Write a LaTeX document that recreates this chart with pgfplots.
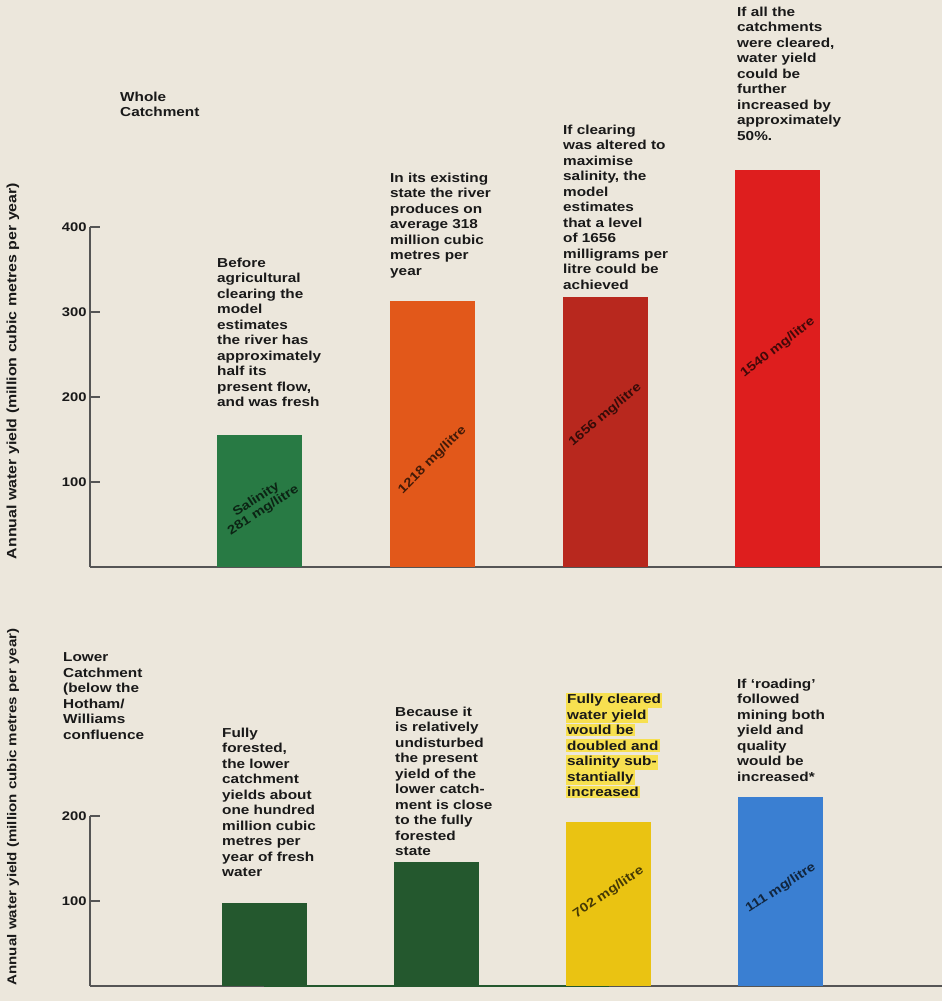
\documentclass[border=0pt]{standalone}
\usepackage{fontspec}
\setmainfont{Liberation Sans}[FakeStretch=1.18]
\usepackage{pgfplots}
\pgfplotsset{compat=1.18}
\definecolor{bg}{RGB}{236,231,220}
\definecolor{gtop}{RGB}{40,122,68}
\definecolor{orng}{RGB}{226,88,26}
\definecolor{dred}{RGB}{184,40,30}
\definecolor{rd}{RGB}{222,30,30}
\definecolor{gbot}{RGB}{36,88,46}
\definecolor{ylw}{RGB}{234,195,18}
\definecolor{blu}{RGB}{58,127,210}
\definecolor{hly}{RGB}{247,224,80}
\definecolor{axc}{RGB}{85,85,85}
\definecolor{txt}{RGB}{25,25,25}
\newcommand\ann{\fontsize{13}{15.5}\selectfont\bfseries\lineskiplimit=-20pt\relax}
\newcommand\hl[1]{{\setlength\fboxsep{1.5pt}\hspace*{-1.5pt}\colorbox{hly}{#1}}}
\pgfplotsset{
  common/.style={scale only axis, width=852pt, axis x line=bottom, axis y line=left,
    axis line style={-, axc, line width=1.3pt}, tick style={axc, line width=1.3pt},
    tick align=inside, major tick length=10pt, xtick=\empty, clip=false, ymin=0,
    yticklabel style={font=\fontsize{12.5}{14}\selectfont\bfseries, text=txt},
    /pgf/number format/assume math mode=true},
  b/.style={ybar, bar width=85pt, bar shift=0pt, draw=none, fill=#1}
}
\tikzset{bl/.style={font=\fontsize{12.5}{13}\selectfont\bfseries, text=black, opacity=0.7, align=center, inner sep=0pt},
  an/.style={anchor=north west, align=left, inner sep=0pt, font=\ann, text=txt}}
\begin{document}
\begin{tikzpicture}[x=1pt,y=1pt]
\fill[bg] (0,0) rectangle (942,1001);
\useasboundingbox (0,0) rectangle (942,1001);
% ---------- top axis ----------
\begin{axis}[common, at={(90pt,434pt)}, anchor=south west, height=340pt,
  ymax=400, ytick={100,200,300,400}, xmin=-0.984, xmax=3.95]
\addplot[b=gtop] coordinates {(0,155)};
\addplot[b=orng] coordinates {(1,313)};
\addplot[b=dred] coordinates {(2,318)};
\addplot[b=rd] coordinates {(3,467)};
\node[bl, rotate=33] at (axis cs:0,73) {Salinity\\281 mg/litre};
\node[bl, rotate=45] at (axis cs:1,126) {1218 mg/litre};
\node[bl, rotate=40] at (axis cs:2,179) {1656 mg/litre};
\node[bl, rotate=38] at (axis cs:3,258) {1540 mg/litre};
\end{axis}
% ---------- bottom axis ----------
\begin{axis}[common, at={(90pt,15pt)}, anchor=south west, height=170pt,
  ymax=200, ytick={100,200}, xmin=-1.01, xmax=3.935]
\addplot[gbot, line width=2.2pt, forget plot] coordinates {(0,0) (2,0)};
\addplot[b=gbot] coordinates {(0,98)};
\addplot[b=gbot] coordinates {(1,146)};
\addplot[b=ylw] coordinates {(2,193)};
\addplot[b=blu] coordinates {(3,222)};
\node[bl, rotate=34] at (axis cs:2,110) {702 mg/litre};
\node[bl, rotate=33] at (axis cs:3,115) {111 mg/litre};
\end{axis}
% ---------- axis titles ----------
\node[rotate=90, font=\fontsize{13.5}{14}\selectfont\bfseries, text=txt] at (13,630) {Annual water yield (million cubic metres per year)};
\node[rotate=90, font=\fontsize{12.8}{14}\selectfont\bfseries, text=txt] at (13,194) {Annual water yield (million cubic metres per year)};
% ---------- annotations ----------
\node[an] at (120,909.5) {Whole\\Catchment};
\node[an] at (217,743.5) {Before\\agricultural\\clearing the\\model\\estimates\\the river has\\approximately\\half its\\present flow,\\and was fresh};
\node[an] at (390,828.5) {In its existing\\state the river\\produces on\\average 318\\million cubic\\metres per\\year};
\node[an] at (563,876.5) {If clearing\\was altered to\\maximise\\salinity, the\\model\\estimates\\that a level\\of 1656\\milligrams per\\litre could be\\achieved};
\node[an] at (737,994.5) {If all the\\catchments\\were cleared,\\water yield\\could be\\further\\increased by\\approximately\\50\%.};
\node[an] at (63,348.5) {Lower\\Catchment\\(below the\\Hotham/\\Williams\\confluence};
\node[an] at (222,273.5) {Fully\\forested,\\the lower\\catchment\\yields about\\one hundred\\million cubic\\metres per\\year of fresh\\water};
\node[an] at (395,294.5) {Because it\\is relatively\\undisturbed\\the present\\yield of the\\lower catch-\\ment is close\\to the fully\\forested\\state};
\node[an] at (567,308.5) {\hl{Fully cleared}\\\hl{water yield}\\\hl{would be}\\\hl{doubled and}\\\hl{salinity sub-}\\\hl{stantially}\\\hl{increased}};
\node[an] at (737,322.5) {If `roading'\\followed\\mining both\\yield and\\quality\\would be\\increased*};
\end{tikzpicture}
\end{document}
